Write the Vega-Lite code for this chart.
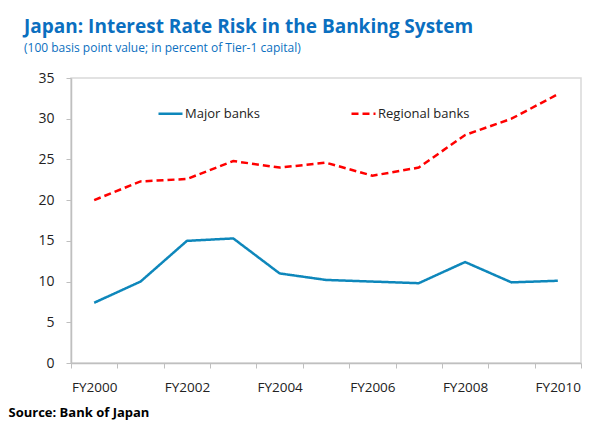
{
  "$schema": "https://vega.github.io/schema/vega-lite/v6.json",
  "autosize": "none",
  "padding": {"left": 71, "top": 78, "right": 22, "bottom": 64},
  "width": 510,
  "height": 285,
  "background": "white",
  "title": {
    "text": "Japan: Interest Rate Risk in the Banking System",
    "subtitle": "(100 basis point value; in percent of Tier-1 capital)",
    "anchor": "start",
    "frame": "group",
    "dx": -47,
    "offset": 17,
    "font": "Open Sans",
    "fontSize": 19,
    "fontWeight": "bold",
    "color": "#0B6FC0",
    "subtitleFont": "Open Sans",
    "subtitleFontSize": 12,
    "subtitleColor": "#0B6FC0",
    "subtitlePadding": 6
  },
  "data": {
    "values": [
      {"year": "FY2000", "series": "Major banks", "value": 7.4},
      {"year": "FY2001", "series": "Major banks", "value": 10.0},
      {"year": "FY2002", "series": "Major banks", "value": 15.0},
      {"year": "FY2003", "series": "Major banks", "value": 15.3},
      {"year": "FY2004", "series": "Major banks", "value": 11.0},
      {"year": "FY2005", "series": "Major banks", "value": 10.2},
      {"year": "FY2006", "series": "Major banks", "value": 10.0},
      {"year": "FY2007", "series": "Major banks", "value": 9.8},
      {"year": "FY2008", "series": "Major banks", "value": 12.4},
      {"year": "FY2009", "series": "Major banks", "value": 9.9},
      {"year": "FY2010", "series": "Major banks", "value": 10.1},
      {"year": "FY2000", "series": "Regional banks", "value": 20.0},
      {"year": "FY2001", "series": "Regional banks", "value": 22.3},
      {"year": "FY2002", "series": "Regional banks", "value": 22.6},
      {"year": "FY2003", "series": "Regional banks", "value": 24.8},
      {"year": "FY2004", "series": "Regional banks", "value": 24.0},
      {"year": "FY2005", "series": "Regional banks", "value": 24.6},
      {"year": "FY2006", "series": "Regional banks", "value": 23.0},
      {"year": "FY2007", "series": "Regional banks", "value": 24.0},
      {"year": "FY2008", "series": "Regional banks", "value": 28.0},
      {"year": "FY2009", "series": "Regional banks", "value": 30.0},
      {"year": "FY2010", "series": "Regional banks", "value": 33.0}
    ]
  },
  "mark": {"type": "line", "strokeWidth": 2.5},
  "encoding": {
    "x": {
      "field": "year",
      "type": "ordinal",
      "scale": {"type": "band", "paddingInner": 0, "paddingOuter": 0},
      "title": "Source: Bank of Japan",
      "axis": {
        "labelAngle": 0,
        "tickBand": "extent",
        "labelExpr": "indexof(['FY2000','FY2002','FY2004','FY2006','FY2008','FY2010'], datum.value) >= 0 ? datum.value : ''",
        "titleAnchor": "start",
        "titleX": -63,
        "titleY": 43,
        "titleFont": "Open Sans",
        "titleFontSize": 13,
        "titleFontWeight": "bold",
        "titleColor": "#000000"
      }
    },
    "y": {
      "field": "value",
      "type": "quantitative",
      "scale": {"domain": [0, 35]},
      "title": null,
      "axis": {"values": [0, 5, 10, 15, 20, 25, 30, 35], "grid": false, "labelPadding": 12, "labelFontSize": 14}
    },
    "color": {
      "field": "series",
      "type": "nominal",
      "scale": {"domain": ["Major banks", "Regional banks"], "range": ["#0E87BB", "#FF0000"]},
      "legend": {
        "title": null,
        "orient": "none",
        "legendX": 86,
        "legendY": 22,
        "direction": "horizontal",
        "padding": 0,
        "symbolType": "stroke",
        "symbolSize": 576,
        "symbolStrokeWidth": 2.5,
        "labelOffset": 1,
        "columnPadding": 86,
        "labelFont": "Open Sans",
        "labelFontSize": 13,
        "labelColor": "#222222"
      }
    },
    "strokeDash": {
      "field": "series",
      "type": "nominal",
      "scale": {"domain": ["Major banks", "Regional banks"], "range": [[1, 0], [7, 4]]}
    }
  },
  "config": {
    "view": {"stroke": "#D9D9D9", "strokeWidth": 1.5},
    "axis": {
      "domainColor": "#BFBFBF",
      "domainWidth": 1.5,
      "tickColor": "#BFBFBF",
      "tickSize": 5,
      "labelFont": "Open Sans",
      "labelFontSize": 13.5,
      "labelColor": "#222222"
    },
    "axisX": {"labelPadding": 12}
  }
}
